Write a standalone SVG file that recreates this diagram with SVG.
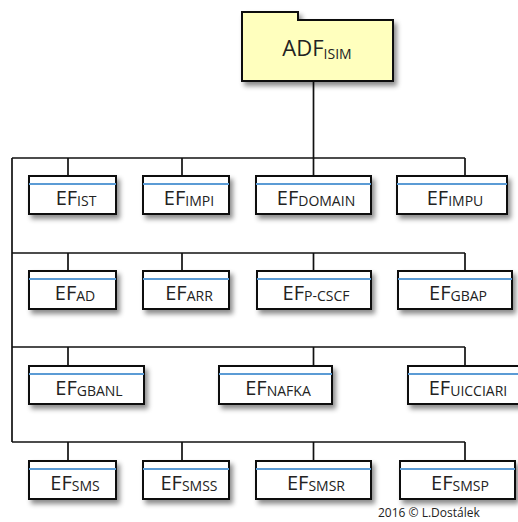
<svg xmlns="http://www.w3.org/2000/svg" width="518" height="522" viewBox="0 0 518 522">
  <defs>
    <filter id="shadow" x="-10%" y="-20%" width="130%" height="160%">
      <feDropShadow dx="3" dy="4" stdDeviation="2.5" flood-color="#000" flood-opacity="0.45"/>
    </filter>
  </defs>
  <style>
    .box { fill: #ffffff; stroke: #111; stroke-width: 2; filter: url(#shadow); }
    .adf { fill: #ffffbe; stroke: #111; stroke-width: 2; filter: url(#shadow); }
    .rule { stroke: #5b9bd5; stroke-width: 2; }
    .wire { fill: none; stroke: #111; stroke-width: 1.7; }
    .lbl { font-family: "Open Sans", "Noto Sans", sans-serif; font-size: 20px; fill: #222; text-anchor: middle; }
    .sub { font-size: 14px; }
    .adft { font-size: 22px; }
    .copy { font-family: "Open Sans", "Noto Sans", sans-serif; font-size: 12px; fill: #222; }
  </style>
  <rect width="518" height="522" fill="#ffffff"/>

  <!-- connectors: trunk, left spine, row buses and drops -->
  <g id="connectors" class="wire">
    <path d="M313.5,81 V158"/>
    <path d="M12,158 V442"/>
    <path d="M12,158 H465"/>
    <path d="M12,253 H465"/>
    <path d="M12,347 H465"/>
    <path d="M12,442 H465"/>
    <path d="M68,158 V176 M182,158 V176 M313.5,158 V176 M465,158 V176"/>
    <path d="M68,253 V271 M182,253 V271 M313.5,253 V271 M465,253 V271"/>
    <path d="M68,347 V366 M313.5,347 V366 M465,347 V366"/>
    <path d="M68,442 V461 M182,442 V461 M313.5,442 V461 M465,442 V461"/>
  </g>

  <!-- root dedicated file -->
  <g id="adf-isim">
    <path class="adf" d="M242,12 H298 V20 H393 V81 H242 Z"/>
    <text class="lbl adft" x="317" y="56">ADF<tspan class="sub" dy="3">ISIM</tspan></text>
  </g>

  <!-- row 1 -->
  <g id="ef-ist">
    <rect class="box" x="29" y="176" width="87" height="38"/>
    <line class="rule" x1="29" y1="184" x2="116" y2="184"/>
    <text class="lbl" x="76" y="205">EF<tspan class="sub" dy="1">IST</tspan></text>
  </g>
  <g id="ef-impi">
    <rect class="box" x="143" y="176" width="86" height="38"/>
    <line class="rule" x1="143" y1="184" x2="229" y2="184"/>
    <text class="lbl" x="189" y="205">EF<tspan class="sub" dy="1">IMPI</tspan></text>
  </g>
  <g id="ef-domain">
    <rect class="box" x="256" y="176" width="115" height="38"/>
    <line class="rule" x1="256" y1="184" x2="371" y2="184"/>
    <text class="lbl" x="316" y="205">EF<tspan class="sub" dy="1">DOMAIN</tspan></text>
  </g>
  <g id="ef-impu">
    <rect class="box" x="397" y="176" width="110" height="38"/>
    <line class="rule" x1="397" y1="184" x2="507" y2="184"/>
    <text class="lbl" x="455" y="205">EF<tspan class="sub" dy="1">IMPU</tspan></text>
  </g>

  <!-- row 2 -->
  <g id="ef-ad">
    <rect class="box" x="29" y="271" width="87" height="38"/>
    <line class="rule" x1="29" y1="279" x2="116" y2="279"/>
    <text class="lbl" x="75" y="300">EF<tspan class="sub" dy="1">AD</tspan></text>
  </g>
  <g id="ef-arr">
    <rect class="box" x="143" y="271" width="86" height="38"/>
    <line class="rule" x1="143" y1="279" x2="229" y2="279"/>
    <text class="lbl" x="189" y="300">EF<tspan class="sub" dy="1">ARR</tspan></text>
  </g>
  <g id="ef-pcscf">
    <rect class="box" x="257" y="271" width="114" height="38"/>
    <line class="rule" x1="257" y1="279" x2="371" y2="279"/>
    <text class="lbl" x="316" y="300">EF<tspan class="sub" dy="1">P-CSCF</tspan></text>
  </g>
  <g id="ef-gbap">
    <rect class="box" x="398" y="271" width="114" height="38"/>
    <line class="rule" x1="398" y1="279" x2="512" y2="279"/>
    <text class="lbl" x="458" y="300">EF<tspan class="sub" dy="1">GBAP</tspan></text>
  </g>

  <!-- row 3 -->
  <g id="ef-gbanl">
    <rect class="box" x="29" y="366" width="115" height="38"/>
    <line class="rule" x1="29" y1="374" x2="144" y2="374"/>
    <text class="lbl" x="89" y="395">EF<tspan class="sub" dy="1">GBANL</tspan></text>
  </g>
  <g id="ef-nafka">
    <rect class="box" x="219" y="366" width="113" height="38"/>
    <line class="rule" x1="219" y1="374" x2="332" y2="374"/>
    <text class="lbl" x="278" y="395">EF<tspan class="sub" dy="1">NAFKA</tspan></text>
  </g>
  <g id="ef-uicciari">
    <rect class="box" x="408" y="366" width="116" height="38"/>
    <line class="rule" x1="408" y1="374" x2="524" y2="374"/>
    <text class="lbl" x="468" y="395">EF<tspan class="sub" dy="1">UICCIARI</tspan></text>
  </g>

  <!-- row 4 -->
  <g id="ef-sms">
    <rect class="box" x="29" y="461" width="87" height="38"/>
    <line class="rule" x1="29" y1="469" x2="116" y2="469"/>
    <text class="lbl" x="75" y="490">EF<tspan class="sub" dy="1">SMS</tspan></text>
  </g>
  <g id="ef-smss">
    <rect class="box" x="143" y="461" width="86" height="38"/>
    <line class="rule" x1="143" y1="469" x2="229" y2="469"/>
    <text class="lbl" x="189" y="490">EF<tspan class="sub" dy="1">SMSS</tspan></text>
  </g>
  <g id="ef-smsr">
    <rect class="box" x="256" y="461" width="115" height="38"/>
    <line class="rule" x1="256" y1="469" x2="371" y2="469"/>
    <text class="lbl" x="316" y="490">EF<tspan class="sub" dy="1">SMSR</tspan></text>
  </g>
  <g id="ef-smsp">
    <rect class="box" x="400" y="461" width="115" height="38"/>
    <line class="rule" x1="400" y1="469" x2="515" y2="469"/>
    <text class="lbl" x="460" y="490">EF<tspan class="sub" dy="1">SMSP</tspan></text>
  </g>

  <text class="copy" x="378" y="517">2016 © L.Dostálek</text>
</svg>
